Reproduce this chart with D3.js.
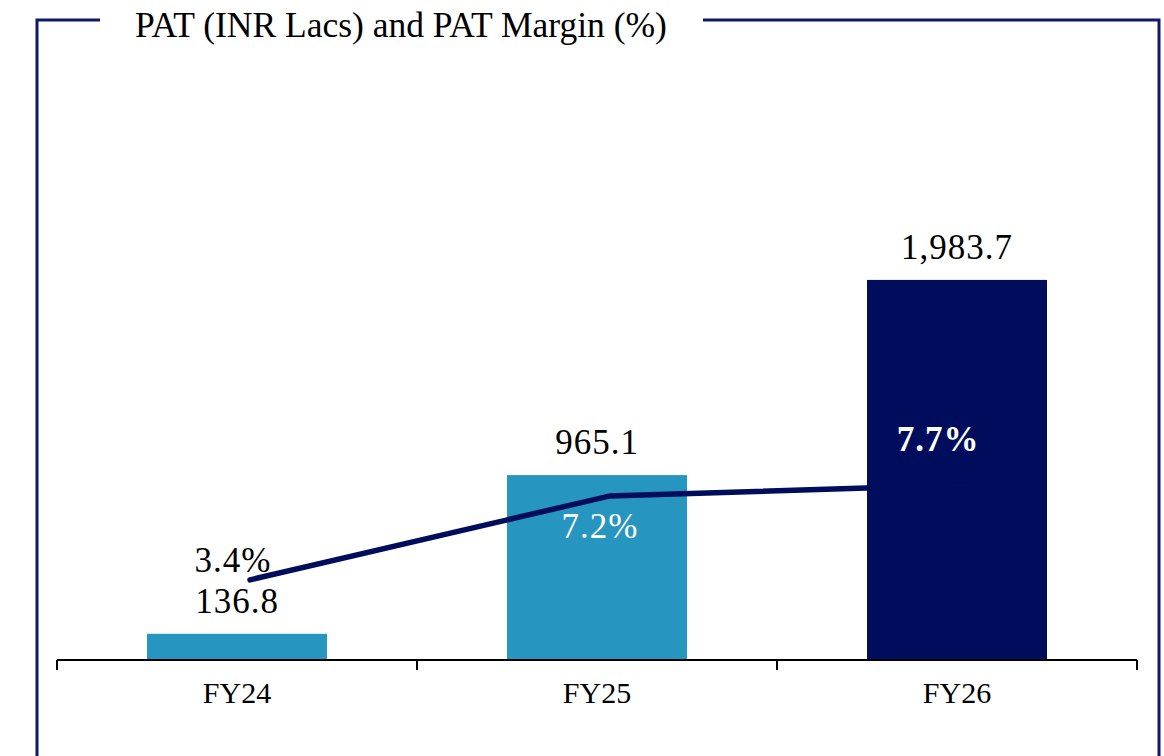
<!DOCTYPE html>
<html>
<head>
<meta charset="utf-8">
<script src="https://cdn.jsdelivr.net/npm/d3@7"></script>
<style>
  body { margin: 0; background: #fff; }
  svg text { font-family: "Liberation Serif", serif; }
</style>
</head>
<body>
<div id="vis"></div>
<script>
// chart data
const YEARS = ["FY24", "FY25", "FY26"];
const PAT = [136.8, 965.1, 1983.7];
const MARGIN = [3.4, 7.2, 7.7];
const PAT_LABELS = ["136.8", "965.1", "1,983.7"];
const MARGIN_LABELS = ["3.4%", "7.2%", "7.7%"];
const TITLE = "PAT (INR Lacs) and PAT Margin (%)";

const WIDTH = 1164;
const HEIGHT = 756;
const NAVY = "#000c5c";
const TEAL = "#2696c0";
const BAR_COLORS = [TEAL, TEAL, NAVY];

// where the margin labels sit relative to their point
const M_LABEL_STYLE = [
  {dx: -17, dy: -8, fill: "#000", weight: "normal"},
  {dx: -10, dy: 42, fill: "#fff", weight: "normal"},
  {dx: -32, dy: -34, fill: "#fff", weight: "bold"}
];

const svg = d3.select("#vis")
  .append("svg")
    .attr("width", WIDTH)
    .attr("height", HEIGHT);

// frame around the chart, gap for the title
svg.append("path")
  .attr("d", "M100,20 H37 V760")
  .attr("fill", "none").attr("stroke", "#0d1a6b").attr("stroke-width", 3);
svg.append("path")
  .attr("d", "M703,20 H1159 V760")
  .attr("fill", "none").attr("stroke", "#0d1a6b").attr("stroke-width", 3);

svg.append("text")
  .attr("x", 401).attr("y", 37)
  .attr("text-anchor", "middle")
  .attr("font-size", "35.5px")
  .attr("fill", "#000")
  .text(TITLE);

const X_SCALE = d3.scaleBand()
  .domain(YEARS)
  .range([57, 1137])
  .paddingInner(0.5)
  .paddingOuter(0.25);

const Y_SCALE = d3.scaleLinear()
  .domain([0, 2500])
  .range([660, 181]);

const Y2_SCALE = d3.scaleLinear()
  .domain([0, 10])
  .range([655, 434]);

const data = YEARS.map((y, i) => ({year: y, pat: PAT[i], margin: MARGIN[i], i: i}));

// bars
svg.selectAll(".bar")
  .data(data)
  .enter().append("rect")
    .attr("class", "bar")
    .attr("x", d => X_SCALE(d.year))
    .attr("y", d => Y_SCALE(d.pat))
    .attr("width", X_SCALE.bandwidth())
    .attr("height", d => Y_SCALE(0) - Y_SCALE(d.pat))
    .attr("fill", d => BAR_COLORS[d.i]);

// x axis with ticks between categories
const axis = svg.append("g")
  .attr("transform", "translate(0," + Y_SCALE(0) + ")");
axis.append("line")
  .attr("x1", 57).attr("x2", 1137)
  .attr("stroke", "#000").attr("stroke-width", 2);
const step = X_SCALE.step();
axis.selectAll(".tk")
  .data(d3.range(YEARS.length + 1))
  .enter().append("line")
    .attr("x1", k => 57 + k * step)
    .attr("x2", k => 57 + k * step)
    .attr("y1", 0).attr("y2", 10)
    .attr("stroke", "#000").attr("stroke-width", 2);
axis.selectAll(".xl")
  .data(data)
  .enter().append("text")
    .attr("x", d => X_SCALE(d.year) + X_SCALE.bandwidth() / 2)
    .attr("y", 43)
    .attr("text-anchor", "middle")
    .attr("font-size", "30px")
    .text(d => d.year);

// bar value labels
svg.selectAll(".vl")
  .data(data)
  .enter().append("text")
    .attr("x", d => X_SCALE(d.year) + X_SCALE.bandwidth() / 2)
    .attr("y", d => Y_SCALE(d.pat) - 21)
    .attr("text-anchor", "middle")
    .attr("font-size", "35px")
    .attr("letter-spacing", "1px")
    .text(d => PAT_LABELS[d.i]);

// margin line
const px = d => X_SCALE(d.year) + X_SCALE.bandwidth() / 2 + 13;
const line = d3.line()
  .x(px)
  .y(d => Y2_SCALE(d.margin));
svg.append("path")
  .datum(data)
  .attr("d", line)
  .attr("fill", "none")
  .attr("stroke", NAVY)
  .attr("stroke-width", 5.5)
  .attr("stroke-linecap", "round");

svg.selectAll(".ml")
  .data(data)
  .enter().append("text")
    .attr("x", d => px(d) + M_LABEL_STYLE[d.i].dx)
    .attr("y", d => Y2_SCALE(d.margin) + M_LABEL_STYLE[d.i].dy)
    .attr("text-anchor", "middle")
    .attr("font-size", "35px")
    .attr("letter-spacing", "1px")
    .attr("font-weight", d => M_LABEL_STYLE[d.i].weight)
    .attr("fill", d => M_LABEL_STYLE[d.i].fill)
    .text(d => MARGIN_LABELS[d.i]);
</script>
</body>
</html>
